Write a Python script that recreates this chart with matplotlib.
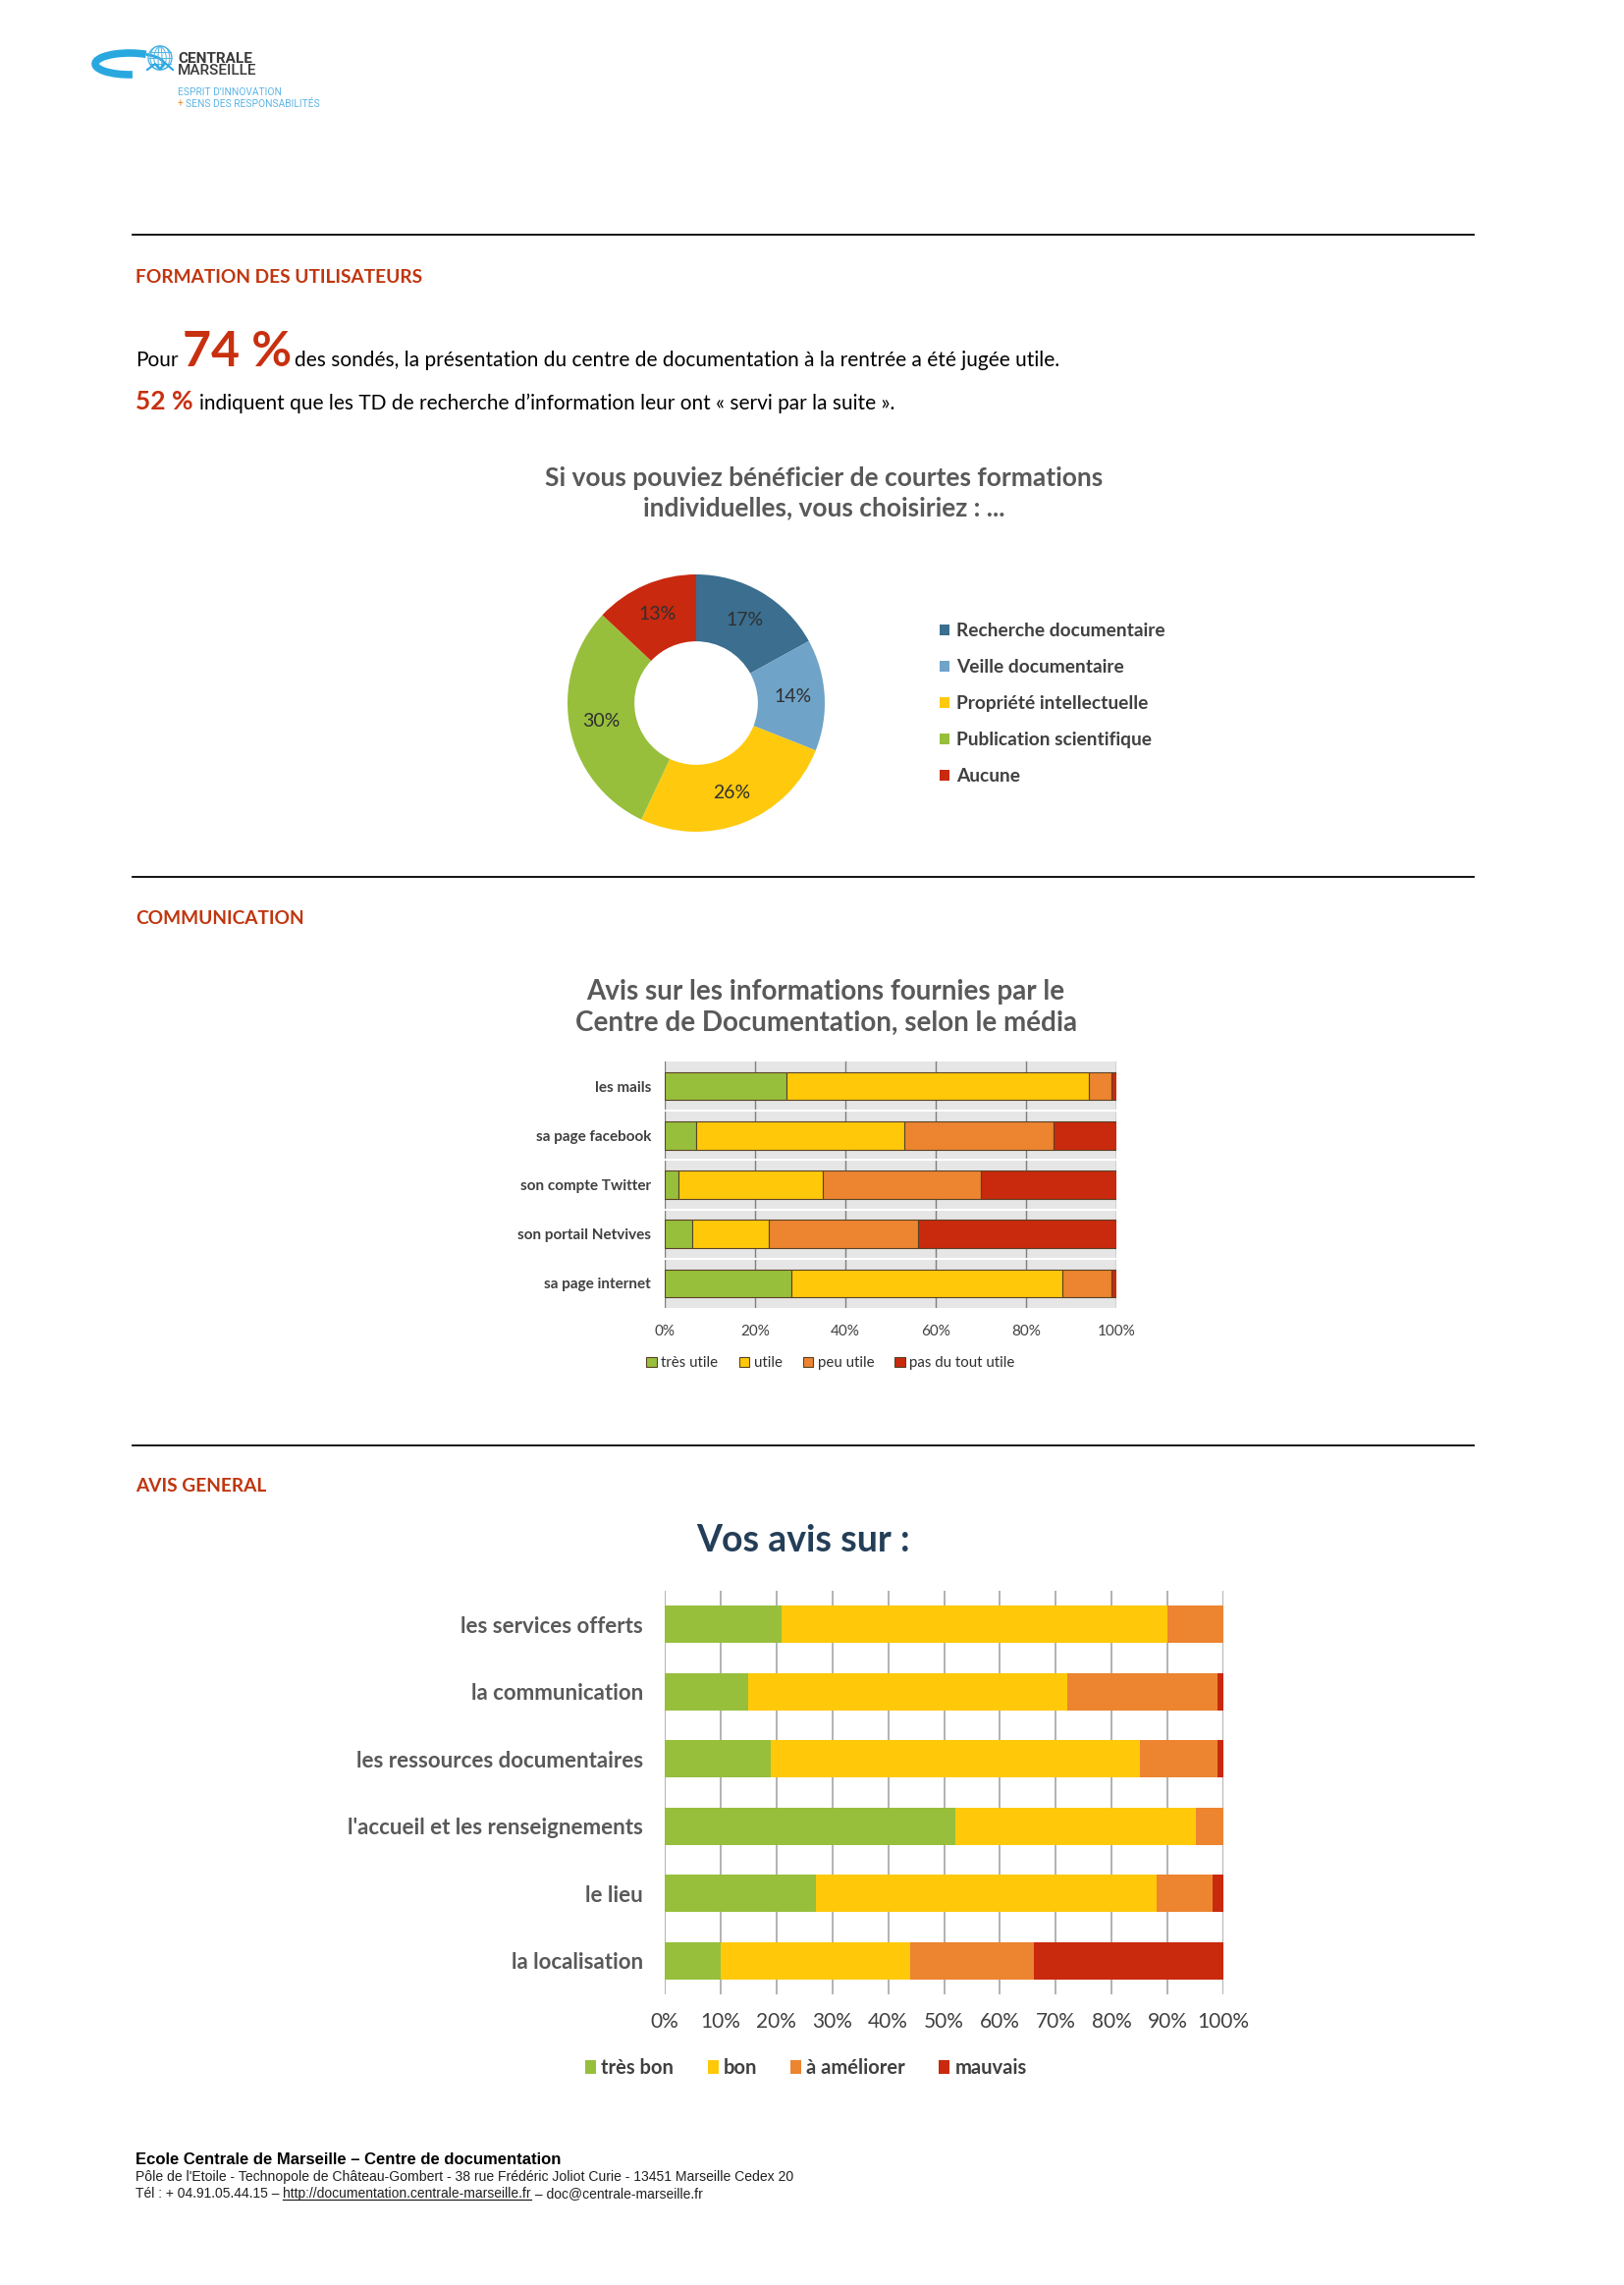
import matplotlib
matplotlib.use('Agg')
import matplotlib.pyplot as plt
from matplotlib.lines import Line2D
from matplotlib.patches import Arc, Circle, Ellipse
import numpy as np

W, H = 1654, 2327
DPI = 100

# ---------------- data ----------------
pie_labels = ['Recherche documentaire', 'Veille documentaire',
              'Propriété intellectuelle', 'Publication scientifique', 'Aucune']
pie_values = [17, 14, 26, 30, 13]
pie_colors = ['#3B6E8F', '#6FA3C8', '#FFC90E', '#97BF3C', '#C9290F']

media_categories = ['les mails', 'sa page facebook', 'son compte Twitter',
                    'son portail Netvives', 'sa page internet']
media_series = ['très utile', 'utile', 'peu utile', 'pas du tout utile']
media_tres_utile = [27, 7, 3, 6, 28]
media_utile = [67, 46, 32, 17, 60]
media_peu_utile = [5, 33, 35, 33, 11]
media_pas_du_tout = [1, 14, 30, 44, 1]
media_ticks = [0, 20, 40, 60, 80, 100]

avis_categories = ['les services offerts', 'la communication',
                   'les ressources documentaires', "l'accueil et les renseignements",
                   'le lieu', 'la localisation']
avis_series = ['très bon', 'bon', 'à améliorer', 'mauvais']
avis_tres_bon = [21, 15, 19, 52, 27, 10]
avis_bon = [69, 57, 66, 43, 61, 34]
avis_ameliorer = [10, 27, 14, 5, 10, 22]
avis_mauvais = [0, 1, 1, 0, 2, 34]
avis_ticks = [0, 10, 20, 30, 40, 50, 60, 70, 80, 90, 100]

bar_colors = ['#97BF3C', '#FFC90A', '#EC8430', '#C9290C']

# ---------------- figure ----------------
plt.rcParams['font.family'] = ['Lato', 'DejaVu Sans']
fig = plt.figure(figsize=(W / DPI, H / DPI), dpi=DPI)
fig.patch.set_facecolor('white')


def fx(x):
    return x / W


def fy(y):
    return 1 - y / H


def px_axes(l, t, r, b):
    return fig.add_axes([l / W, 1 - b / H, (r - l) / W, (b - t) / H])


def hline(y):
    fig.add_artist(Line2D([fx(135), fx(1501)], [fy(y), fy(y)], color='black', lw=1.3))


# ---------------- logo ----------------
lax = px_axes(88, 40, 185, 85)
lax.set_xlim(88, 185)
lax.set_ylim(85, 40)
lax.axis('off')
lax.add_patch(Arc((132, 65), 70, 22, theta1=75, theta2=330, color='#29A8E0', lw=5.5))
lax.add_patch(Arc((132, 65), 70, 22, theta1=330, theta2=360, color='#29A8E0', lw=2))
lax.add_patch(Circle((163, 59), 12, fill=False, ec='#4FB3E4', lw=1))
for dx in (-6, 0, 6):
    lax.add_patch(Ellipse((163 + dx * 0.3, 59), abs(dx) * 2 + 4, 24, fill=False, ec='#4FB3E4', lw=0.7))
for yy in (53, 59, 65):
    lax.plot([152, 174], [yy, yy], color='#4FB3E4', lw=0.7)
lax.plot([150, 158, 163, 168, 176], [71, 65, 70, 64, 71], color='#29A8E0', lw=1.5)

logo_font = ['Roboto', 'DejaVu Sans']
fig.text(fx(181), fy(64), 'CENTRALE', fontsize=11, fontweight='bold', color='#3A3A3A',
         family=logo_font, va='baseline')
fig.text(fx(181), fy(76), 'MARSEILLE', fontsize=11, fontweight='medium', color='#3A3A3A',
         family=logo_font, va='baseline')
fig.text(fx(181), fy(97), "ESPRIT D'INNOVATION", fontsize=7.4, color='#5DB5E6',
         family=logo_font, va='baseline')
fig.text(fx(181), fy(109), '+', fontsize=7.4, color='#F08A24',
         family=logo_font, va='baseline')
fig.text(fx(189), fy(109), 'SENS DES RESPONSABILITÉS', fontsize=7.4, color='#5DB5E6',
         family=logo_font, va='baseline')

# ---------------- rules & section headers ----------------
hline(239)
hline(893)
hline(1472)
red = '#C0360F'
for txt, y in [('FORMATION DES UTILISATEURS', 288), ('COMMUNICATION', 941), ('AVIS GENERAL', 1519)]:
    fig.text(fx(138), fy(y), txt, fontsize=13.8, fontweight='bold', color=red, va='baseline')

# ---------------- intro text ----------------
fig.text(fx(138), fy(373), 'Pour', fontsize=15, color='black', va='baseline')
fig.text(fx(186), fy(373), '74 %', fontsize=36, fontweight='bold', color='#C8300F', va='baseline')
fig.text(fx(300), fy(373),
         'des sondés, la présentation du centre de documentation à la rentrée a été jugée utile.',
         fontsize=15, color='black', va='baseline')
fig.text(fx(138), fy(417), '52 %', fontsize=19, fontweight='bold', color='#C8300F', va='baseline')
fig.text(fx(203), fy(417),
         'indiquent que les TD de recherche d’information leur ont « servi par la suite ».',
         fontsize=15, color='black', va='baseline')

# ---------------- donut chart ----------------
title_gray = '#595959'
fig.text(fx(839), fy(502), 'Si vous pouviez bénéficier de courtes formations\nindividuelles, vous choisiriez : ...',
         fontsize=19, fontweight='bold', color=title_gray, ha='center', va='center',
         linespacing=1.3)

cx, cy, R = 709, 716, 131
pax = px_axes(cx - R, cy - R, cx + R, cy + R)
wedges, _, autotexts = pax.pie(pie_values, colors=pie_colors, startangle=90, counterclock=False,
                               radius=1, wedgeprops=dict(width=0.52, linewidth=0),
                               autopct=lambda p: f'{p:.0f}%', pctdistance=0.75,
                               textprops=dict(fontsize=14, color='#303030'))
pax.set_xlim(-1, 1)
pax.set_ylim(-1, 1)
pax.legend(wedges, pie_labels, loc='upper left', bbox_to_anchor=(fx(940), fy(617)),
           bbox_transform=fig.transFigure, frameon=False, handlelength=0.5, handleheight=0.5,
           handletextpad=0.4, labelspacing=1.05,
           prop=dict(size=13.75, weight='bold'), labelcolor='#404040')

# ---------------- media bar chart ----------------
fig.text(fx(841), fy(1026), 'Avis sur les informations fournies par le\nCentre de Documentation, selon le média',
         fontsize=20, fontweight='bold', color=title_gray, ha='center', va='center',
         linespacing=1.3)

max_ = px_axes(677, 1081, 1137, 1332)
ypos = np.arange(len(media_categories))
left = np.zeros(len(media_categories))
handles = []
for vals, col, name in zip([media_tres_utile, media_utile, media_peu_utile, media_pas_du_tout],
                           bar_colors, media_series):
    h = max_.barh(ypos, vals, left=left, height=0.57, color=col, edgecolor='#5A4226',
                  linewidth=0.8, label=name, zorder=3)
    handles.append(h)
    left += np.array(vals)
max_.set_xlim(0, 100)
max_.set_ylim(len(media_categories) - 0.5, -0.5)
max_.set_facecolor('#E6E6E6')
max_.set_xticks(media_ticks)
max_.set_xticklabels([f'{t}%' for t in media_ticks])
max_.set_yticks(ypos)
max_.set_yticklabels(media_categories)
max_.set_yticks(ypos[:-1] + 0.5, minor=True)
max_.xaxis.grid(True, color='#7F7F7F', lw=1, zorder=1)
max_.yaxis.grid(True, which='minor', color='white', lw=1.5, zorder=1)
max_.set_axisbelow(True)
for s in max_.spines.values():
    s.set_visible(False)
max_.tick_params(axis='both', which='both', length=0)
max_.tick_params(axis='y', pad=10, labelsize=11, labelcolor='#404040')
max_.tick_params(axis='x', pad=12, labelsize=11, labelcolor='#404040')
for t in max_.get_yticklabels():
    t.set_fontweight('bold')
max_.legend(handles, media_series, loc='center', ncol=4, bbox_to_anchor=(fx(846), fy(1388)),
            bbox_transform=fig.transFigure, frameon=False, handlelength=0.7, handleheight=0.7,
            handletextpad=0.3, columnspacing=1.4, prop=dict(size=10.8), labelcolor='#303030')

# ---------------- avis bar chart ----------------
fig.text(fx(818), fy(1569), 'Vos avis sur :', fontsize=27, fontweight='bold', color='#243E58',
         ha='center', va='center')

bax = px_axes(677, 1620, 1246, 2031)
ypos2 = np.arange(len(avis_categories))
left2 = np.zeros(len(avis_categories))
handles2 = []
for vals, col, name in zip([avis_tres_bon, avis_bon, avis_ameliorer, avis_mauvais],
                           bar_colors, avis_series):
    h = bax.barh(ypos2, vals, left=left2, height=0.56, color=col, linewidth=0,
                 label=name, zorder=3)
    handles2.append(h)
    left2 += np.array(vals)
bax.set_xlim(0, 100)
bax.set_ylim(len(avis_categories) - 0.5, -0.5)
bax.set_xticks(avis_ticks)
bax.set_xticklabels([f'{t}%' for t in avis_ticks])
bax.set_yticks(ypos2)
bax.set_yticklabels(avis_categories)
bax.xaxis.grid(True, color='#A6A6A6', lw=1.2, zorder=1)
bax.set_axisbelow(True)
for s in bax.spines.values():
    s.set_visible(False)
bax.tick_params(axis='both', length=0)
bax.tick_params(axis='y', pad=16, labelsize=16, labelcolor='#595959')
bax.tick_params(axis='x', pad=13, labelsize=15, labelcolor='#404040')
for t in bax.get_yticklabels():
    t.set_fontweight('bold')
bax.legend(handles2, avis_series, loc='center', ncol=4, bbox_to_anchor=(fx(821), fy(2106)),
           bbox_transform=fig.transFigure, frameon=False, handlelength=0.55, handleheight=0.7,
           handletextpad=0.25, columnspacing=1.7, prop=dict(size=14.5, weight='bold'),
           labelcolor='#404040')

# ---------------- footer ----------------
ff = ['Liberation Sans', 'DejaVu Sans']
fig.text(fx(138), fy(2204), 'Ecole Centrale de Marseille – Centre de documentation', fontsize=12,
         fontweight='bold', family=ff, va='baseline')
fig.text(fx(138), fy(2221),
         "Pôle de l'Etoile - Technopole de Château-Gombert - 38 rue Frédéric Joliot Curie - 13451 Marseille Cedex 20",
         fontsize=10.1, family=ff, va='baseline', color='#202020')
fig.canvas.draw()
renderer = fig.canvas.get_renderer()
t1 = fig.text(fx(138), fy(2238), 'Tél : + 04.91.05.44.15 – ', fontsize=10, family=ff,
              va='baseline', color='#202020')
bb = t1.get_window_extent(renderer)
t2 = fig.text(bb.x1 / W, fy(2238), 'http://documentation.centrale-marseille.fr', fontsize=10,
              family=ff, va='baseline', color='#202020')
bb2 = t2.get_window_extent(renderer)
fig.add_artist(Line2D([bb2.x0 / W, bb2.x1 / W], [fy(2240), fy(2240)], color='#202020', lw=0.9))
fig.text(bb2.x1 / W, fy(2238), ' – doc@centrale-marseille.fr', fontsize=10, family=ff,
         va='baseline', color='#202020')

fig.savefig('out.png', dpi=DPI, facecolor='white')
